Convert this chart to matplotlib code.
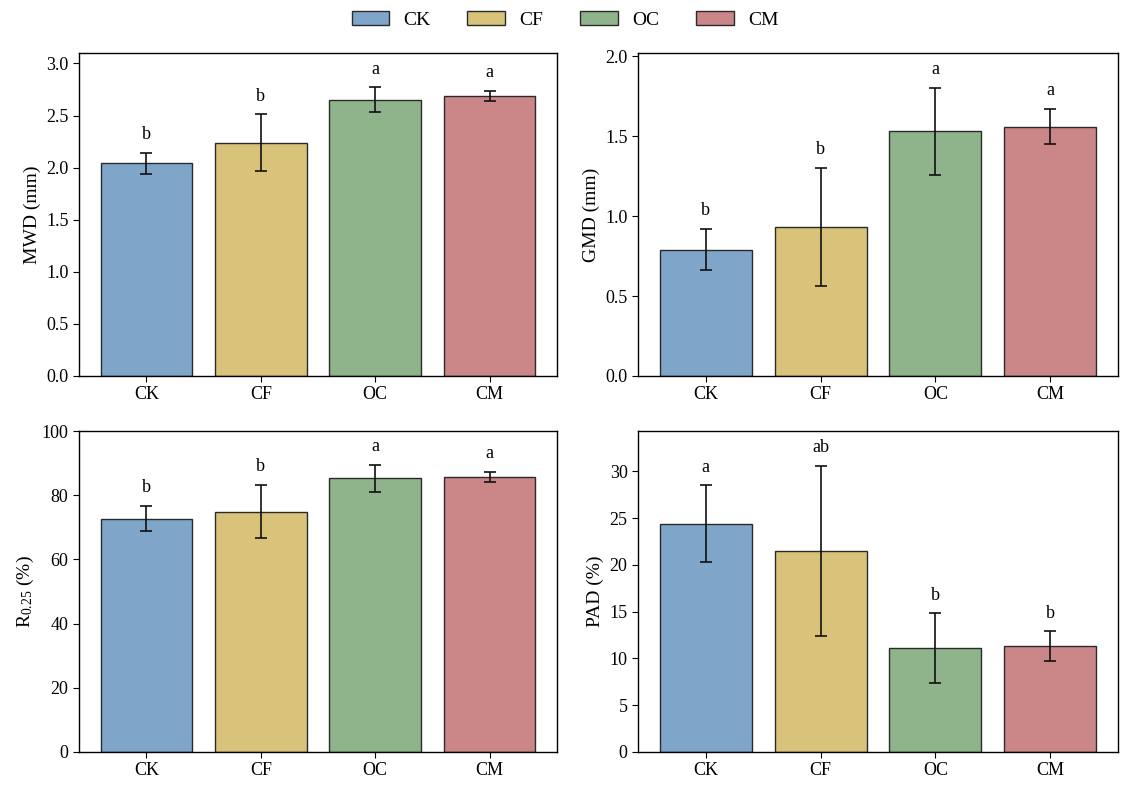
import matplotlib
matplotlib.use("Agg")
import matplotlib.pyplot as plt
from matplotlib.patches import Patch
import numpy as np

plt.rcParams['font.family'] = ['Liberation Serif', 'DejaVu Serif']
plt.rcParams['mathtext.fontset'] = 'custom'
plt.rcParams['mathtext.rm'] = 'Liberation Serif'
plt.rcParams['mathtext.it'] = 'Liberation Serif:italic'
plt.rcParams['mathtext.default'] = 'regular'

treatments = ["CK", "CF", "OC", "CM"]
colors = ["#7FA6C9", "#D9C37B", "#8FB48B", "#CB8787"]

mwd_mean = [2.04, 2.24, 2.65, 2.69]
mwd_err = [0.10, 0.27, 0.12, 0.05]
mwd_letters = ["b", "b", "a", "a"]

gmd_mean = [0.79, 0.93, 1.53, 1.56]
gmd_err = [0.13, 0.37, 0.27, 0.11]
gmd_letters = ["b", "b", "a", "a"]

r025_mean = [72.7, 74.9, 85.3, 85.7]
r025_err = [4.0, 8.3, 4.2, 1.6]
r025_letters = ["b", "b", "a", "a"]

pad_mean = [24.4, 21.5, 11.1, 11.3]
pad_err = [4.1, 9.1, 3.7, 1.6]
pad_letters = ["a", "ab", "b", "b"]

panels = [
    (mwd_mean, mwd_err, mwd_letters, "MWD (mm)", 3.1, [0, 0.5, 1.0, 1.5, 2.0, 2.5, 3.0], "{:.1f}"),
    (gmd_mean, gmd_err, gmd_letters, "GMD (mm)", 2.02, [0, 0.5, 1.0, 1.5, 2.0], "{:.1f}"),
    (r025_mean, r025_err, r025_letters, r"R$_{0.25}$ (%)", 100, [0, 20, 40, 60, 80, 100], "{:.0f}"),
    (pad_mean, pad_err, pad_letters, "PAD (%)", 34.3, [0, 5, 10, 15, 20, 25, 30], "{:.0f}"),
]

fig = plt.figure(figsize=(11.3, 7.9), dpi=100)
W, H = 1130, 790
boxes = [
    (79, 53, 557, 376),
    (638, 53, 1118, 376),
    (79, 431, 557, 752),
    (638, 431, 1118, 752),
]

x = np.arange(len(treatments))
for (mean, err, letters, ylabel, ymax, ticks, fmt), (l, t, r, b) in zip(panels, boxes):
    ax = fig.add_axes([l / W, 1 - b / H, (r - l) / W, (b - t) / H])
    ax.bar(x, mean, width=0.8, color=colors, edgecolor="#2a2a2a", linewidth=1.0,
           yerr=err, capsize=4, error_kw=dict(ecolor="#111111", elinewidth=1.2, capthick=1.2))
    for xi, m, e, lab in zip(x, mean, err, letters):
        ax.text(xi, m + e + ymax * 0.03, lab, ha="center", va="bottom", fontsize=13)
    ax.set_xticks(x)
    ax.set_xticklabels(treatments)
    ax.set_ylim(0, ymax)
    ax.set_yticks(ticks)
    ax.set_yticklabels([fmt.format(v) for v in ticks])
    ax.set_ylabel(ylabel, fontsize=14)
    ax.tick_params(labelsize=13, length=4)
    for s in ax.spines.values():
        s.set_linewidth(1.0)

handles = [Patch(facecolor=c, edgecolor="#2a2a2a", label=t) for c, t in zip(colors, treatments)]
fig.legend(handles=handles, loc="center", bbox_to_anchor=(0.5, 1 - 20 / H), ncol=4,
           frameon=False, fontsize=14, handlelength=1.95, handleheight=0.72,
           handletextpad=0.72, columnspacing=1.9)

fig.savefig("out.png", dpi=100)
